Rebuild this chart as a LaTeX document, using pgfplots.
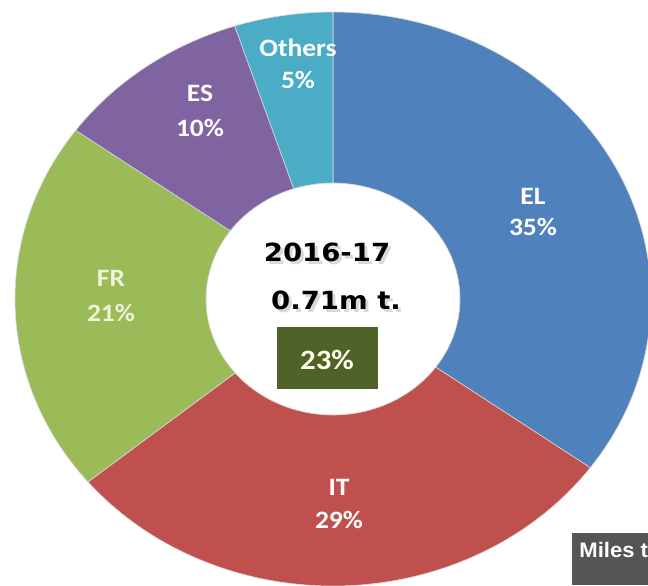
\documentclass[border=0pt]{standalone}
\usepackage{fontspec}
\setmainfont{Carlito}
\newfontfamily\dejavu{DejaVu Sans}
\newfontfamily\libsans{Liberation Sans}
\usepackage{graphicx}
\usepackage{pgfplots}
\usepackage{pgfplotstable}
\pgfplotsset{compat=1.18}

\definecolor{elblue}{RGB}{79,129,189}
\definecolor{itred}{RGB}{192,80,77}
\definecolor{frgreen}{RGB}{155,187,89}
\definecolor{espurple}{RGB}{128,100,162}
\definecolor{othcyan}{RGB}{75,172,198}
\definecolor{boxgreen}{RGB}{79,98,40}
\definecolor{milesgray}{RGB}{85,85,85}
\definecolor{frtext}{RGB}{238,243,214}

\pgfplotstableread{
name value
EL 35
IT 29
FR 21
ES 10
Others 5
}\sharetable

\pgfplotstablegetelem{0}{value}\of\sharetable\edef\vA{\pgfplotsretval}
\pgfplotstablegetelem{1}{value}\of\sharetable\edef\vB{\pgfplotsretval}
\pgfplotstablegetelem{2}{value}\of\sharetable\edef\vC{\pgfplotsretval}
\pgfplotstablegetelem{3}{value}\of\sharetable\edef\vD{\pgfplotsretval}
\pgfplotstablegetelem{4}{value}\of\sharetable\edef\vE{\pgfplotsretval}

\pgfmathsetmacro\sA{90}
\pgfmathsetmacro\eA{\sA-3.6*\vA}
\pgfmathsetmacro\eB{\eA-3.6*\vB}
\pgfmathsetmacro\eC{\eB-3.6*\vC}
\pgfmathsetmacro\eD{\eC-3.6*\vD}
\pgfmathsetmacro\eE{\eD-3.6*\vE}

\newcommand\slice[3]{%
\fill[#3, draw=white!85!black, line width=0.3pt]
 (axis cs:{333+318*cos(#1)},{286+287*sin(#1)})
 arc[start angle=#1, end angle=#2, x radius=318, y radius=287]
 -- (axis cs:{333+127*cos(#2)},{286+116*sin(#2)})
 arc[start angle=#2, end angle=#1, x radius=127, y radius=116] -- cycle;}

\newcommand\sx[1]{\scalebox{1.1}[1]{#1}}

\begin{document}
\begin{tikzpicture}
\begin{axis}[
  width=324pt, height=292.5pt, scale only axis,
  xmin=0, xmax=648, ymin=0, ymax=585,
  axis lines=none, clip=false,
]
\fill[white] (axis cs:0,0) rectangle (axis cs:648,585);
\slice{\sA}{\eA}{elblue}
\slice{\eA}{\eB}{itred}
\slice{\eB}{\eC}{frgreen}
\slice{\eC}{\eD}{espurple}
\slice{\eD}{\eE}{othcyan}

\tikzset{lab/.style={text=white, font=\bfseries\fontsize{12.5}{14}\selectfont, inner sep=0pt}}
\node[lab] at (axis cs:533,389) {\sx{EL}};
\node[lab] at (axis cs:533,358) {\sx{35\%}};
\node[lab] at (axis cs:339,98) {\sx{IT}};
\node[lab] at (axis cs:339,65) {\sx{29\%}};
\node[lab, text=frtext] at (axis cs:111,307) {\sx{FR}};
\node[lab, text=frtext] at (axis cs:111,272) {\sx{21\%}};
\node[lab] at (axis cs:200,492) {\sx{ES}};
\node[lab] at (axis cs:200,457) {\sx{10\%}};
\node[lab] at (axis cs:298,537) {\sx{Others}};
\node[lab] at (axis cs:298,505) {\sx{5\%}};

\tikzset{ctr/.style={font=\dejavu\bfseries\fontsize{12.5}{14}\selectfont, inner sep=0pt}}
\node[ctr, text=black!15] at (axis cs:330,330) {\sx{2016-17}};
\node[ctr, text=black] at (axis cs:327,333) {\sx{2016-17}};
\node[ctr, text=black!15] at (axis cs:339,282) {\sx{0.71m t.}};
\node[ctr, text=black] at (axis cs:336,285) {\sx{0.71m t.}};

\fill[boxgreen] (axis cs:277,196) rectangle (axis cs:378,258);
\node[text=white!92!yellow, font=\bfseries\fontsize{14}{16}\selectfont, inner sep=0pt] at (axis cs:327,225) {\sx{23\%}};

\fill[milesgray] (axis cs:572,0) rectangle (axis cs:680,52);
\node[anchor=base west, text=white, font=\libsans\bfseries\fontsize{10.5}{12}\selectfont, inner sep=0pt] at (axis cs:579,28) {\scalebox{1.05}[1]{Miles t}};
\end{axis}
\pgfresetboundingbox
\useasboundingbox (current axis.south west) rectangle (current axis.north east);
\end{tikzpicture}
\end{document}
